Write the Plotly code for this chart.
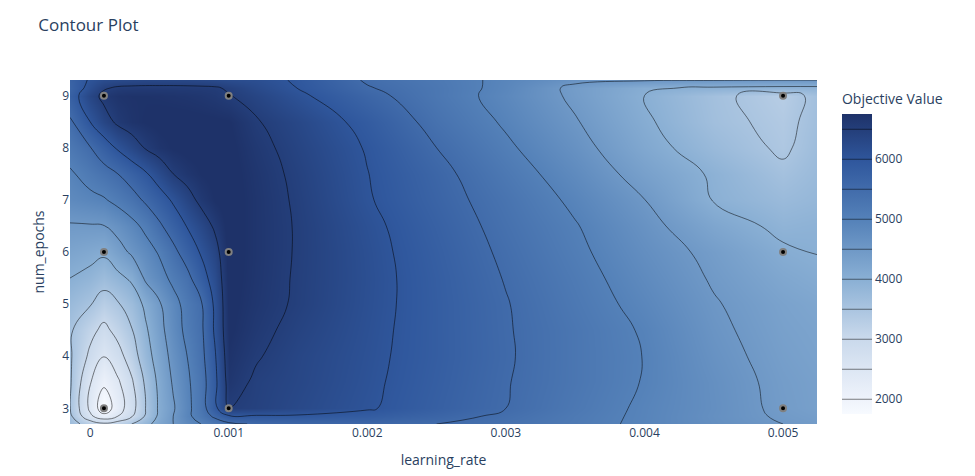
import plotly.graph_objects as go

# trials (learning_rate, num_epochs, objective value)
trial_lr = [0.0001, 0.0001, 0.0001, 0.001, 0.001, 0.001, 0.005, 0.005, 0.005]
trial_epochs = [3, 6, 9, 3, 6, 9, 3, 6, 9]
trial_values = [1680, 4080, 6600, 6500, 6830, 6520, 4420, 4060, 3300]

# objective surface, one list per num_epochs row
grid_lr = [-0.000145, 0.0, 0.0001, 0.0002, 0.0003, 0.0004, 0.0005, 0.0006, 0.0007, 0.0008,
           0.0009, 0.001, 0.0012, 0.0015, 0.002, 0.0025, 0.003, 0.0035, 0.004, 0.0045,
           0.005, 0.005245]
grid_epochs = [2.7, 2.85, 3, 3.5, 4, 4.5, 5, 5.5, 6, 6.5, 7, 7.5, 8, 8.5, 9, 9.15, 9.3]

row_270 = [3700, 3300, 3100, 3250, 3500, 3850, 4200, 4500, 4800, 5000, 5200, 5400, 5550, 5600, 5600, 5500, 5350, 5150, 4920, 4700, 4500, 4420]
row_285 = [3600, 2600, 2150, 2500, 2950, 3550, 4100, 4500, 4900, 5200, 5600, 5950, 5950, 5950, 5850, 5650, 5420, 5170, 4930, 4680, 4450, 4380]
row_300 = [3520, 2400, 1680, 2250, 2800, 3500, 4080, 4450, 4875, 5265, 5875, 6500, 6420, 6270, 6040, 5770, 5500, 5210, 4935, 4695, 4420, 4330]
row_350 = [3560, 2520, 2080, 2420, 2930, 3580, 4120, 4550, 4920, 5270, 5880, 6650, 6440, 6310, 6070, 5800, 5520, 5250, 4980, 4680, 4400, 4320]
row_400 = [3560, 2900, 2510, 2820, 3240, 3800, 4230, 4650, 5000, 5350, 5950, 6720, 6530, 6330, 6090, 5820, 5540, 5250, 4990, 4630, 4360, 4280]
row_450 = [3560, 3140, 2880, 3150, 3475, 3930, 4350, 4760, 5120, 5400, 6060, 6780, 6600, 6390, 6110, 5820, 5530, 5250, 4960, 4580, 4320, 4250]
row_500 = [3750, 3530, 3280, 3460, 3700, 4100, 4450, 4820, 5180, 5440, 6080, 6800, 6650, 6450, 6130, 5820, 5520, 5200, 4880, 4530, 4280, 4200]
row_550 = [4000, 3870, 3700, 3880, 4080, 4570, 4810, 5120, 5370, 5800, 6200, 6820, 6670, 6460, 6140, 5810, 5480, 5150, 4800, 4460, 4180, 4090]
row_600 = [4240, 4150, 4080, 4330, 4570, 4800, 5050, 5380, 5720, 6040, 6350, 6830, 6680, 6470, 6130, 5780, 5430, 5085, 4720, 4390, 4060, 3990]
row_650 = [4460, 4470, 4490, 4650, 4860, 5110, 5430, 5730, 6020, 6280, 6560, 6830, 6680, 6470, 6100, 5735, 5370, 5025, 4630, 4210, 3900, 3940]
row_700 = [4800, 4890, 4960, 5130, 5320, 5570, 5800, 6060, 6340, 6600, 6760, 6830, 6680, 6450, 6035, 5670, 5305, 4920, 4505, 3980, 3740, 3820]
row_750 = [4940, 5170, 5330, 5500, 5720, 5950, 6220, 6500, 6650, 6750, 6800, 6820, 6660, 6420, 6010, 5620, 5200, 4790, 4330, 3945, 3590, 3750]
row_800 = [5200, 5480, 5770, 6055, 6290, 6530, 6680, 6760, 6800, 6810, 6810, 6800, 6610, 6365, 5970, 5500, 5070, 4650, 4170, 3760, 3430, 3690]
row_850 = [5450, 6000, 6330, 6580, 6700, 6760, 6790, 6800, 6800, 6790, 6780, 6760, 6530, 6295, 5865, 5353, 4946, 4530, 4068, 3630, 3380, 3640]
row_900 = [5750, 6320, 6600, 6700, 6730, 6730, 6720, 6700, 6680, 6650, 6600, 6520, 6350, 6080, 5635, 5230, 4850, 4420, 4000, 3600, 3300, 3620]
row_915 = [5650, 6150, 6450, 6550, 6570, 6580, 6580, 6580, 6570, 6560, 6540, 6450, 6250, 5990, 5530, 5230, 4880, 4400, 4050, 3950, 3900, 3900]
row_930 = [5700, 6050, 6200, 6250, 6280, 6300, 6300, 6300, 6300, 6280, 6250, 6200, 6150, 5950, 5450, 5200, 4900, 4600, 4550, 4530, 4510, 4510]

zmap = [row_270, row_285, row_300, row_350, row_400, row_450, row_500, row_550, row_600,
        row_650, row_700, row_750, row_800, row_850, row_900, row_915, row_930]

# muted blues, light to navy
blues = [
    [0.0, "rgb(247,250,255)"],
    [0.063, "rgb(236,241,250)"],
    [0.257, "rgb(200,216,235)"],
    [0.451, "rgb(137,175,212)"],
    [0.645, "rgb(85,130,185)"],
    [0.839, "rgb(48,88,158)"],
    [1.0, "rgb(30,50,105)"],
]

contour = go.Contour(
    x=grid_lr,
    y=grid_epochs,
    z=zmap,
    colorscale=blues,
    contours=dict(start=2000, end=6500, size=500, coloring="heatmap"),
    line_smoothing=1.3,
    colorbar=dict(title=dict(text="Objective Value")),
    hoverinfo="none",
)

points = go.Scatter(
    x=trial_lr,
    y=trial_epochs,
    mode="markers",
    marker=dict(color="black", size=6, line=dict(width=2, color="Grey")),
    showlegend=False,
)

fig = go.Figure(data=[contour, points])
fig.update_layout(
    title=dict(text="Contour Plot", x=0.031, y=0.977),
    width=975,
    height=476,
    margin=dict(l=62, r=166, t=72, b=60),
    xaxis=dict(title=dict(text="learning_rate"), range=[-0.000145, 0.005245]),
    yaxis=dict(title=dict(text="num_epochs", standoff=14), range=[2.7, 9.3]),
)
fig.write_html("out.html")
